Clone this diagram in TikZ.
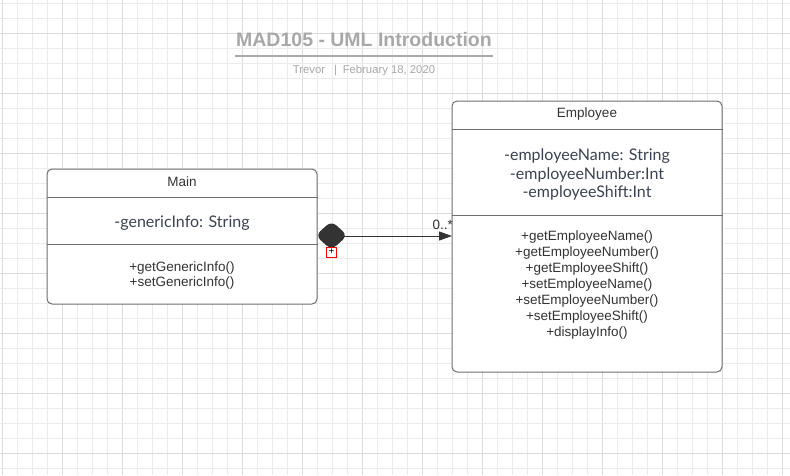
\documentclass[tikz,border=0pt]{standalone}
\usepackage{fontspec}
\setmainfont{Liberation Sans}
\newfontfamily\latofont{Lato}
\usetikzlibrary{shapes.geometric,arrows.meta}
\definecolor{gridminor}{HTML}{EBEBEB}
\definecolor{gridmajor}{HTML}{DCDCDC}
\definecolor{boxline}{HTML}{6E6E6E}
\definecolor{txt}{HTML}{333333}
\definecolor{attrc}{HTML}{3B4352}
\definecolor{titlec}{HTML}{A8A8A8}
\definecolor{diamc}{HTML}{333333}
\tikzset{
  umlbox/.style={draw=boxline, line width=1pt, rounded corners=5pt, fill=white, inner sep=0pt},
  divider/.style={draw=boxline, line width=1pt},
  hdrtext/.style={font=\fontsize{13.5}{16}\selectfont, text=txt, anchor=base, inner sep=0pt},
  attrtext/.style={font=\latofont\fontsize{16}{19}\selectfont, text=attrc, anchor=base, inner sep=0pt},
  methtext/.style={font=\fontsize{13.5}{16}\selectfont, text=txt, anchor=base, inner sep=0pt},
}
\begin{document}
\begin{tikzpicture}[x=1pt,y=-1pt]
\useasboundingbox (0,0) rectangle (790,475);
\fill[white] (0,0) rectangle (790,475);
% grid
\foreach \k in {0,...,52}{
  \pgfmathtruncatemacro{\r}{mod(\k,4)}
  \ifnum\r=0
    \draw[gridmajor, line width=1pt] ({2+15*\k},0) -- ({2+15*\k},475);
  \else
    \draw[gridminor, line width=1pt] ({2+15*\k},0) -- ({2+15*\k},475);
  \fi
}
\foreach \k in {0,...,31}{
  \pgfmathtruncatemacro{\r}{mod(\k,4)}
  \ifnum\r=2
    \draw[gridmajor, line width=1pt] (0,{3+15*\k}) -- (790,{3+15*\k});
  \else
    \draw[gridminor, line width=1pt] (0,{3+15*\k}) -- (790,{3+15*\k});
  \fi
}
% title
\node[font=\bfseries\fontsize{19.5}{22}\selectfont, text=titlec, anchor=base, inner sep=0pt] (title) at (364,46.7) {MAD105 - UML Introduction};
\coordinate (ulL) at (235,55.7);
\coordinate (ulR) at (493,55.7);
\draw[titlec, line width=1.8pt] (ulL) -- (ulR);
\node[font=\fontsize{11.3}{13}\selectfont, text=titlec, anchor=base, inner sep=0pt] (subtitle) at (364,73) {Trevor\hspace{0.8em}|\hspace{0.5em}February 18, 2020};

% Main class
\node[umlbox, minimum width=270pt, minimum height=135pt] (main) at (182,236.5) {};
\coordinate (mainD1) at (47,197);
\coordinate (mainD2) at (47,244);
\draw[divider] (mainD1) -- (mainD1 -| main.east);
\draw[divider] (mainD2) -- (mainD2 -| main.east);
\node[hdrtext] (mainname) at (182,186) {Main};
\node[attrtext] (mainattr) at (182,227.5) {-genericInfo: String};
\node[methtext] (mainm1) at (182,271) {+getGenericInfo()};
\node[methtext] (mainm2) at (182,286.5) {+setGenericInfo()};

% Employee class
\node[umlbox, minimum width=270pt, minimum height=271pt] (emp) at (587,236.5) {};
\coordinate (empD1) at (452,129);
\coordinate (empD2) at (452,215);
\draw[divider] (empD1) -- (empD1 -| emp.east);
\draw[divider] (empD2) -- (empD2 -| emp.east);
\node[hdrtext] (empname) at (587,117.7) {Employee};
\node[attrtext] (empa1) at (587,160) {-employeeName: String};
\node[attrtext] (empa2) at (587,179) {-employeeNumber:Int};
\node[attrtext] (empa3) at (587,197.7) {-employeeShift:Int};
\node[methtext] (empm1) at (587,240.7) {+getEmployeeName()};
\node[methtext] (empm2) at (587,256.7) {+getEmployeeNumber()};
\node[methtext] (empm3) at (587,272.7) {+getEmployeeShift()};
\node[methtext] (empm4) at (587,288.7) {+setEmployeeName()};
\node[methtext] (empm5) at (587,304.7) {+setEmployeeNumber()};
\node[methtext] (empm6) at (587,320.7) {+setEmployeeShift()};
\node[methtext] (empm7) at (587,336.7) {+displayInfo()};

% composition
\node[diamond, fill=diamc, draw=diamc, line width=1pt, rounded corners=6pt, minimum width=31pt, minimum height=28pt, inner sep=0pt] (dia) at (331.5,235.5) {};
\coordinate (arrend) at (452,236);
\draw[txt, line width=1pt, -{Triangle[length=13pt,width=9pt]}] (dia.center |- arrend) -- (arrend);
\node[font=\fontsize{13.5}{16}\selectfont, text=txt, anchor=base east, inner sep=0pt] (mult) at (453,229) {0..*};
\node[draw=red, line width=1pt, minimum width=10pt, minimum height=10pt, inner sep=0pt, fill=white, font=\fontsize{10}{10}\selectfont] (plus) at (331.5,252) {+};
\end{tikzpicture}
\end{document}
